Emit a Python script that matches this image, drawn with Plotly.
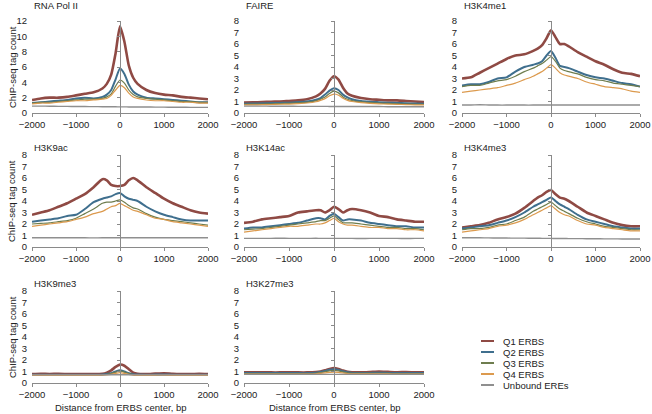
import plotly.graph_objects as go

W, H = 652, 414

# ---------------- data ----------------
x_bp = [-2000, -1800, -1600, -1400, -1200, -1000, -800, -600, -400, -300, -200, -100,
        0, 100, 200, 300, 400, 600, 800, 1000, 1200, 1400, 1600, 1800, 2000]

series_names = ["Q1 ERBS", "Q2 ERBS", "Q3 ERBS", "Q4 ERBS", "Unbound EREs"]
series_colors = ["#8f4a44", "#3f6f8e", "#6e7d4e", "#dc9a4e", "#8f8f8f"]
series_widths = [2.6, 2.0, 1.2, 1.2, 1.4]

panel_titles = ["RNA Pol II", "FAIRE", "H3K4me1", "H3K9ac", "H3K14ac", "H3K4me3",
                "H3K9me3", "H3K27me3"]
y_max = [12, 8, 8, 8, 8, 8, 8, 8]
y_dtick = [2, 1, 1, 1, 1, 1, 1, 1]
x_ticks = [-2000, -1000, 0, 1000, 2000]

rnapol_q1 = [1.7, 1.9, 2.0, 2.0, 2.1, 2.3, 2.5, 2.7, 3.2, 3.8, 5.0, 7.8, 11.3, 9.3, 6.2, 4.6, 3.8, 3.0, 2.6, 2.4, 2.3, 2.1, 2.0, 1.9, 1.8]
rnapol_q2 = [1.3, 1.4, 1.5, 1.6, 1.7, 1.9, 2.0, 1.9, 2.1, 2.4, 3.0, 4.4, 5.8, 5.1, 3.7, 2.8, 2.4, 2.0, 1.9, 1.8, 1.7, 1.6, 1.5, 1.4, 1.4]
rnapol_q3 = [1.3, 1.4, 1.4, 1.5, 1.6, 1.7, 1.8, 1.8, 1.9, 2.1, 2.5, 3.5, 4.3, 3.9, 3.0, 2.4, 2.1, 1.9, 1.8, 1.7, 1.6, 1.5, 1.5, 1.4, 1.4]
rnapol_q4 = [1.2, 1.3, 1.3, 1.4, 1.5, 1.6, 1.6, 1.7, 1.8, 1.9, 2.3, 3.0, 3.6, 3.3, 2.6, 2.1, 1.9, 1.7, 1.6, 1.6, 1.5, 1.4, 1.4, 1.3, 1.3]
rnapol_ub = [0.9, 0.9, 0.88, 0.87, 0.86, 0.85, 0.84, 0.83, 0.82, 0.82, 0.81, 0.81, 0.8, 0.8, 0.79, 0.79, 0.78, 0.78, 0.77, 0.76, 0.75, 0.75, 0.74, 0.74, 0.73]

faire_q1 = [0.9, 0.92, 0.95, 0.98, 1.0, 1.05, 1.1, 1.2, 1.45, 1.7, 2.1, 2.8, 3.2, 2.9, 2.2, 1.7, 1.5, 1.3, 1.2, 1.15, 1.1, 1.1, 1.05, 1.0, 0.95]
faire_q2 = [0.8, 0.82, 0.84, 0.86, 0.88, 0.9, 0.95, 1.0, 1.15, 1.3, 1.6, 1.95, 2.15, 2.0, 1.6, 1.35, 1.2, 1.05, 0.98, 0.94, 0.9, 0.87, 0.85, 0.82, 0.8]
faire_q3 = [0.75, 0.77, 0.78, 0.8, 0.82, 0.84, 0.88, 0.93, 1.05, 1.2, 1.4, 1.7, 1.9, 1.75, 1.4, 1.2, 1.08, 0.96, 0.9, 0.86, 0.83, 0.8, 0.78, 0.76, 0.75]
faire_q4 = [0.7, 0.71, 0.72, 0.74, 0.76, 0.78, 0.82, 0.87, 0.98, 1.1, 1.25, 1.5, 1.65, 1.55, 1.28, 1.1, 1.0, 0.9, 0.84, 0.8, 0.77, 0.75, 0.73, 0.71, 0.7]
faire_ub = [0.6, 0.6, 0.6, 0.59, 0.59, 0.59, 0.58, 0.58, 0.58, 0.58, 0.58, 0.57, 0.57, 0.57, 0.57, 0.57, 0.56, 0.56, 0.56, 0.56, 0.55, 0.55, 0.55, 0.55, 0.55]

h3k4me1_q1 = [3.0, 3.1, 3.5, 3.9, 4.3, 4.7, 5.0, 5.1, 5.4, 5.6, 5.9, 6.5, 7.2, 6.6, 6.0, 6.0, 5.8, 5.3, 4.9, 4.5, 4.2, 3.8, 3.5, 3.4, 3.2]
h3k4me1_q2 = [2.4, 2.5, 2.5, 2.7, 3.0, 3.1, 3.6, 4.0, 4.2, 4.3, 4.5, 5.0, 5.4, 4.8, 4.1, 4.0, 3.9, 3.6, 3.3, 3.1, 3.0, 2.8, 2.6, 2.5, 2.3]
h3k4me1_q3 = [2.3, 2.4, 2.4, 2.6, 2.8, 2.9, 3.2, 3.6, 3.9, 4.1, 4.3, 4.6, 4.9, 4.5, 3.9, 3.7, 3.6, 3.4, 3.1, 2.9, 2.8, 2.6, 2.5, 2.4, 2.3]
h3k4me1_q4 = [1.8, 1.9, 2.0, 2.1, 2.2, 2.4, 2.6, 2.9, 3.2, 3.4, 3.6, 3.9, 4.2, 3.9, 3.5, 3.3, 3.2, 3.0, 2.7, 2.5, 2.3, 2.2, 2.1, 1.9, 1.8]
h3k4me1_ub = [0.7, 0.7, 0.72, 0.7, 0.69, 0.69, 0.7, 0.69, 0.69, 0.7, 0.7, 0.7, 0.7, 0.7, 0.7, 0.7, 0.7, 0.7, 0.7, 0.7, 0.7, 0.7, 0.7, 0.7, 0.7]

h3k9ac_q1 = [2.8, 3.0, 3.2, 3.5, 3.8, 4.2, 4.6, 5.2, 5.9, 5.8, 5.4, 5.3, 5.3, 5.4, 5.8, 6.0, 5.8, 5.2, 4.7, 4.2, 3.8, 3.5, 3.2, 3.0, 2.9]
h3k9ac_q2 = [2.2, 2.3, 2.4, 2.5, 2.7, 2.8, 3.3, 3.9, 4.2, 4.3, 4.4, 4.6, 4.7, 4.4, 4.2, 4.1, 4.0, 3.5, 3.1, 2.8, 2.6, 2.4, 2.3, 2.3, 2.3]
h3k9ac_q3 = [2.0, 2.05, 2.1, 2.2, 2.3, 2.5, 2.9, 3.3, 3.8, 3.9, 3.9, 4.0, 4.1, 3.9, 3.6, 3.4, 3.3, 2.9, 2.6, 2.4, 2.3, 2.2, 2.1, 2.0, 1.9]
h3k9ac_q4 = [1.8, 1.9, 2.0, 2.1, 2.2, 2.4, 2.6, 2.9, 3.1, 3.3, 3.5, 3.6, 3.8, 3.6, 3.4, 3.2, 3.1, 2.8, 2.5, 2.4, 2.2, 2.1, 2.0, 1.9, 1.8]
h3k9ac_ub = [0.8, 0.8, 0.8, 0.8, 0.8, 0.8, 0.8, 0.79, 0.8, 0.8, 0.8, 0.8, 0.8, 0.8, 0.8, 0.8, 0.8, 0.8, 0.8, 0.8, 0.8, 0.8, 0.8, 0.8, 0.8]

h3k14ac_q1 = [2.1, 2.2, 2.4, 2.5, 2.6, 2.7, 3.0, 3.1, 3.2, 3.2, 3.0, 3.2, 3.5, 3.3, 3.0, 3.2, 3.3, 3.2, 3.0, 2.7, 2.6, 2.4, 2.3, 2.2, 2.2]
h3k14ac_q2 = [1.6, 1.7, 1.7, 1.8, 1.9, 2.0, 2.1, 2.3, 2.5, 2.5, 2.4, 2.7, 2.9, 2.6, 2.3, 2.4, 2.4, 2.3, 2.1, 2.0, 1.9, 1.8, 1.8, 1.7, 1.7]
h3k14ac_q3 = [1.5, 1.55, 1.6, 1.7, 1.8, 1.9, 2.0, 2.1, 2.2, 2.3, 2.3, 2.5, 2.7, 2.4, 2.1, 2.1, 2.1, 2.0, 1.9, 1.8, 1.7, 1.7, 1.6, 1.6, 1.5]
h3k14ac_q4 = [1.3, 1.4, 1.5, 1.6, 1.7, 1.8, 1.8, 1.9, 2.0, 2.0, 2.1, 2.3, 2.5, 2.2, 2.0, 1.9, 1.9, 1.8, 1.7, 1.7, 1.6, 1.6, 1.5, 1.5, 1.4]
h3k14ac_ub = [0.75, 0.75, 0.75, 0.75, 0.76, 0.75, 0.75, 0.75, 0.76, 0.75, 0.75, 0.75, 0.75, 0.75, 0.75, 0.75, 0.75, 0.74, 0.75, 0.75, 0.75, 0.75, 0.74, 0.75, 0.75]

h3k4me3_q1 = [1.7, 1.8, 1.9, 2.1, 2.4, 2.6, 2.9, 3.4, 4.0, 4.3, 4.5, 4.8, 4.95, 4.6, 4.3, 4.2, 4.0, 3.5, 3.0, 2.7, 2.4, 2.1, 1.9, 1.8, 1.8]
h3k4me3_q2 = [1.6, 1.7, 1.8, 1.9, 2.1, 2.3, 2.6, 3.0, 3.5, 3.7, 3.9, 4.1, 4.3, 4.0, 3.7, 3.5, 3.3, 2.8, 2.4, 2.2, 2.0, 1.8, 1.7, 1.6, 1.6]
h3k4me3_q3 = [1.5, 1.6, 1.6, 1.7, 1.9, 2.0, 2.3, 2.6, 3.1, 3.3, 3.5, 3.7, 3.9, 3.6, 3.3, 3.1, 2.9, 2.5, 2.2, 2.0, 1.8, 1.7, 1.6, 1.5, 1.5]
h3k4me3_q4 = [1.3, 1.4, 1.5, 1.6, 1.8, 1.9, 2.1, 2.4, 2.8, 3.0, 3.2, 3.4, 3.6, 3.3, 3.0, 2.8, 2.7, 2.3, 2.0, 1.9, 1.7, 1.6, 1.5, 1.4, 1.4]
h3k4me3_ub = [0.8, 0.8, 0.8, 0.79, 0.78, 0.78, 0.77, 0.77, 0.76, 0.76, 0.75, 0.75, 0.75, 0.74, 0.74, 0.74, 0.73, 0.73, 0.72, 0.72, 0.71, 0.71, 0.7, 0.7, 0.7]

h3k9me3_q1 = [0.78, 0.8, 0.78, 0.8, 0.78, 0.77, 0.77, 0.77, 0.8, 0.9, 1.1, 1.4, 1.6, 1.5, 1.2, 0.9, 0.8, 0.78, 0.82, 0.85, 0.8, 0.78, 0.78, 0.8, 0.78]
h3k9me3_q2 = [0.72, 0.72, 0.72, 0.72, 0.72, 0.72, 0.72, 0.72, 0.74, 0.78, 0.85, 1.0, 1.1, 1.0, 0.85, 0.76, 0.73, 0.72, 0.73, 0.74, 0.72, 0.72, 0.72, 0.72, 0.72]
h3k9me3_q3 = [0.7, 0.7, 0.7, 0.7, 0.7, 0.7, 0.7, 0.7, 0.72, 0.76, 0.82, 0.95, 1.05, 0.95, 0.82, 0.74, 0.71, 0.7, 0.71, 0.72, 0.7, 0.7, 0.7, 0.7, 0.7]
h3k9me3_q4 = [0.66, 0.66, 0.66, 0.66, 0.66, 0.66, 0.66, 0.66, 0.68, 0.7, 0.75, 0.84, 0.9, 0.84, 0.75, 0.69, 0.67, 0.66, 0.67, 0.68, 0.66, 0.66, 0.66, 0.66, 0.66]
h3k9me3_ub = [0.72, 0.72, 0.72, 0.72, 0.72, 0.72, 0.72, 0.72, 0.72, 0.72, 0.72, 0.72, 0.72, 0.72, 0.72, 0.72, 0.72, 0.72, 0.72, 0.72, 0.72, 0.72, 0.72, 0.72, 0.72]

h3k27me3_q1 = [0.92, 0.92, 0.93, 0.92, 0.92, 0.93, 0.92, 0.92, 0.95, 1.0, 1.1, 1.22, 1.3, 1.22, 1.08, 0.98, 0.94, 0.93, 0.96, 1.0, 0.97, 0.94, 0.95, 0.93, 0.92]
h3k27me3_q2 = [0.86, 0.86, 0.86, 0.86, 0.86, 0.86, 0.86, 0.86, 0.9, 0.95, 1.05, 1.15, 1.2, 1.14, 1.02, 0.93, 0.88, 0.87, 0.88, 0.9, 0.88, 0.87, 0.87, 0.86, 0.86]
h3k27me3_q3 = [0.82, 0.82, 0.82, 0.82, 0.82, 0.82, 0.82, 0.82, 0.85, 0.9, 0.98, 1.06, 1.1, 1.05, 0.96, 0.88, 0.84, 0.83, 0.84, 0.85, 0.83, 0.82, 0.82, 0.82, 0.82]
h3k27me3_q4 = [0.78, 0.78, 0.78, 0.78, 0.78, 0.78, 0.78, 0.78, 0.8, 0.84, 0.88, 0.93, 0.95, 0.92, 0.87, 0.82, 0.8, 0.79, 0.8, 0.8, 0.79, 0.78, 0.78, 0.78, 0.78]
h3k27me3_ub = [0.75, 0.75, 0.75, 0.75, 0.75, 0.75, 0.75, 0.75, 0.75, 0.75, 0.75, 0.75, 0.75, 0.75, 0.75, 0.75, 0.75, 0.75, 0.75, 0.75, 0.75, 0.75, 0.75, 0.75, 0.75]

panel_data = [
    [rnapol_q1, rnapol_q2, rnapol_q3, rnapol_q4, rnapol_ub],
    [faire_q1, faire_q2, faire_q3, faire_q4, faire_ub],
    [h3k4me1_q1, h3k4me1_q2, h3k4me1_q3, h3k4me1_q4, h3k4me1_ub],
    [h3k9ac_q1, h3k9ac_q2, h3k9ac_q3, h3k9ac_q4, h3k9ac_ub],
    [h3k14ac_q1, h3k14ac_q2, h3k14ac_q3, h3k14ac_q4, h3k14ac_ub],
    [h3k4me3_q1, h3k4me3_q2, h3k4me3_q3, h3k4me3_q4, h3k4me3_ub],
    [h3k9me3_q1, h3k9me3_q2, h3k9me3_q3, h3k9me3_q4, h3k9me3_ub],
    [h3k27me3_q1, h3k27me3_q2, h3k27me3_q3, h3k27me3_q4, h3k27me3_ub],
]

# ---------------- layout (pixel geometry) ----------------
col_px = [(32, 208), (244, 424), (462, 640)]
row_px = [(21, 113), (155, 247), (291, 383)]   # (top, bottom) in px
title_row_px = [6, 147, 283]

FONT = "Liberation Sans, Arial, Helvetica, sans-serif"
TXT = "#222222"
AXC = "#8a8a8a"

def xdom(c):
    return [col_px[c][0] / W, col_px[c][1] / W]

def ydom(r):
    return [1 - row_px[r][1] / H, 1 - row_px[r][0] / H]

fig = go.Figure()
layout = dict(
    width=W, height=H, autosize=False,
    margin=dict(l=0, r=0, t=0, b=0, pad=0, autoexpand=False),
    paper_bgcolor="white", plot_bgcolor="white",
    showlegend=False,
    font=dict(family=FONT, size=9.5, color=TXT),
)
annotations = []
shapes = []

n_panels = len(panel_titles)
for i in range(n_panels):
    r, c = divmod(i, 3)
    k = i + 1
    xa = "x" if k == 1 else f"x{k}"
    ya = "y" if k == 1 else f"y{k}"
    kc = k + n_panels  # center overlay y-axis index
    yc = f"y{kc}"
    for s in range(5):
        fig.add_trace(go.Scatter(
            x=x_bp, y=panel_data[i][s], mode="lines", name=series_names[s],
            line=dict(color=series_colors[s], width=series_widths[s], shape="spline", smoothing=0.6),
            xaxis=xa, yaxis=ya, showlegend=False, hoverinfo="skip",
        ))
    # invisible anchor trace for the central axis
    fig.add_trace(go.Scatter(x=[0], y=[0], mode="markers", marker=dict(opacity=0),
                             xaxis=xa, yaxis=yc, showlegend=False, hoverinfo="skip"))

    xd = xdom(c)
    yd = ydom(r)
    layout[f"xaxis{'' if k == 1 else k}"] = dict(
        domain=xd, anchor=ya, range=[-2000, 2000], tickvals=x_ticks,
        showgrid=False, zeroline=False, showline=True, linecolor=AXC, linewidth=1,
        ticks="outside", ticklen=3, tickcolor=AXC, tickfont=dict(size=9.5, color=TXT),
        tickformat="d", automargin=False, ticklabeloverflow="allow",
    )
    layout[f"yaxis{'' if k == 1 else k}"] = dict(
        domain=yd, anchor=xa, range=[0, y_max[i]], dtick=y_dtick[i],
        showgrid=False, zeroline=False, showline=False, ticks="",
        tickfont=dict(size=9.5, color=TXT), ticklabelstandoff=4, automargin=False,
        ticklabeloverflow="allow",
    )
    layout[f"yaxis{kc}"] = dict(
        domain=yd, overlaying=ya, anchor="free", position=(xd[0] + xd[1]) / 2,
        range=[0, y_max[i]], dtick=y_dtick[i], side="left",
        showgrid=False, zeroline=False, showline=True, linecolor=AXC, linewidth=1,
        ticks="outside", ticklen=3, tickcolor=AXC, showticklabels=False, automargin=False,
    )
    annotations.append(dict(
        text=panel_titles[i], xref="paper", yref="paper",
        x=xd[0], y=1 - title_row_px[r] / H, xanchor="left", yanchor="middle",
        showarrow=False, font=dict(size=9.5, color=TXT),
    ))

# y-axis titles (left column)
for r in range(3):
    yd = ydom(r)
    annotations.append(dict(
        text="ChIP-seq tag count", textangle=-90, xref="paper", yref="paper",
        x=12 / W, y=(yd[0] + yd[1]) / 2, xanchor="center", yanchor="middle",
        showarrow=False, font=dict(size=9.5, color=TXT),
    ))
# x-axis titles (bottom row)
for c in range(2):
    xd = xdom(c)
    annotations.append(dict(
        text="Distance from ERBS center, bp", xref="paper", yref="paper",
        x=(xd[0] + xd[1]) / 2, y=1 - 407 / H, xanchor="center", yanchor="middle",
        showarrow=False, font=dict(size=9.5, color=TXT),
    ))

# legend (manual, compact)
leg_top_px = 341
leg_step_px = 11
for s in range(5):
    ypx = leg_top_px + s * leg_step_px
    shapes.append(dict(type="line", xref="paper", yref="paper",
                       x0=481 / W, x1=494 / W, y0=1 - ypx / H, y1=1 - ypx / H,
                       line=dict(color=series_colors[s], width=2)))
    annotations.append(dict(
        text=series_names[s], xref="paper", yref="paper",
        x=501 / W, y=1 - ypx / H, xanchor="left", yanchor="middle",
        showarrow=False, font=dict(size=9.5, color=TXT),
    ))

layout["annotations"] = annotations
layout["shapes"] = shapes
fig.update_layout(**layout)
fig.write_html(
    "out.html",
    config={"displayModeBar": False},
    post_script="document.body.style.margin='0';document.body.style.overflow='hidden';",
)
